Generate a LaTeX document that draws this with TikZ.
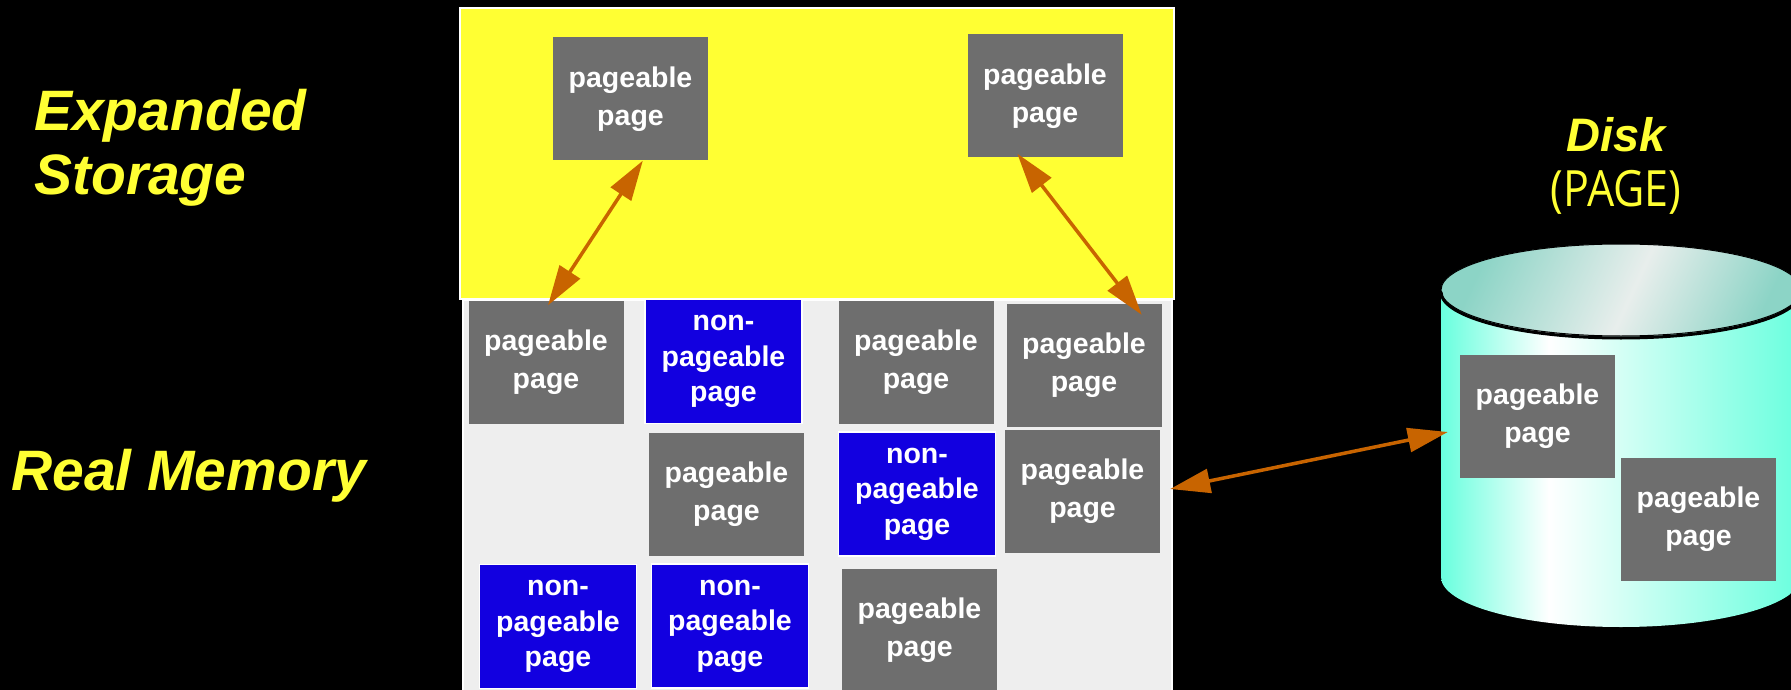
\documentclass[tikz,border=0pt]{standalone}
\usepackage{fontspec}
\setmainfont{Liberation Sans}
\newfontfamily\diskfont{Open Sans}
\usetikzlibrary{arrows.meta,calc}
\definecolor{esyellow}{RGB}{255,255,51}
\definecolor{lblyellow}{RGB}{255,255,51}
\definecolor{memgray}{RGB}{238,238,238}
\definecolor{pagegray}{RGB}{110,110,110}
\definecolor{npblue}{RGB}{18,0,224}
\definecolor{arroworange}{RGB}{200,100,0}
\definecolor{diskcyan}{RGB}{105,255,222}
\definecolor{disklight}{RGB}{225,255,248}
\definecolor{topteal}{RGB}{140,212,198}
\definecolor{toplight}{RGB}{232,238,236}
\pgfdeclarehorizontalshading{diskbody}{100bp}{color(0bp)=(diskcyan); color(25bp)=(diskcyan); color(40bp)=(white); color(47bp)=(disklight); color(75bp)=(diskcyan); color(100bp)=(diskcyan)}
\pgfdeclarehorizontalshading{disktop}{100bp}{color(0bp)=(topteal); color(25bp)=(topteal); color(52bp)=(toplight); color(75bp)=(topteal); color(100bp)=(topteal)}
\tikzset{
  pagebox/.style={fill=pagegray, minimum width=155pt, minimum height=123pt, inner sep=0pt,
    text=white, align=center, font=\bfseries\fontsize{28.5}{38}\selectfont},
  npbox/.style={pagebox, fill=npblue, draw=white, line width=1.5pt, minimum width=157pt, minimum height=124pt,
    font=\bfseries\fontsize{28.5}{35.5}\selectfont},
  lbl/.style={text=lblyellow, inner sep=0pt, align=left, font=\bfseries\itshape\fontsize{57}{64}\selectfont},
  xfer/.style={draw=arroworange, line width=3.5pt,
    {Triangle[length=40pt,width=24pt]}-{Triangle[length=40pt,width=24pt]}}
}
\begin{document}
\begin{tikzpicture}[x=1pt,y=-1pt]
\useasboundingbox (0,0) rectangle (1791,690);
\clip (0,0) rectangle (1791,690);
\fill[black] (0,0) rectangle (1791,690);
% regions
\fill[esyellow, draw=white, line width=2pt] (460,8) rectangle (1174,299);
\fill[memgray, draw=white, line width=1.5pt] (463,300) rectangle (1172,694);
% labels
\node[lbl, anchor=west] (eslbl) at (34,147.5) {Expanded\\Storage};
\node[lbl, anchor=base west] (rmlbl) at (11,490) {Real Memory};
\node[anchor=base, text=lblyellow, font=\bfseries\itshape\fontsize{47}{50}\selectfont] (disklbl) at (1616,151) {Disk};
\node[anchor=base, text=lblyellow, font=\diskfont\fontsize{50}{55}\selectfont] (pagelbl) at (1616,206) {\scalebox{0.86}[1]{(PAGE)}};
% disk
\shade[shading=diskbody] (1441,290) -- (1441,577)
  arc[start angle=180, end angle=360, x radius=180pt, y radius=50pt]
  -- (1801,290)
  arc[start angle=0, end angle=180, x radius=180pt, y radius=46pt] -- cycle;
\shade[shading=disktop, shading angle=-25] (1621,290) ellipse [x radius=180pt, y radius=46pt];
\draw[black, line width=1pt] (1621,290) ellipse [x radius=180pt, y radius=46pt];
\draw[black, line width=3pt] (1441,292) arc[start angle=180, end angle=360, x radius=180pt, y radius=46pt];
% expanded storage pages
\node[pagebox] (es1) at (630.5,99) {pageable\\page};
\node[pagebox] (es2) at (1045,96) {pageable\\page};
% real memory pages
\node[pagebox] (r1a) at (546,362) {pageable\\page};
\node[npbox]   (r1b) at (723.5,361.5) {non-\\pageable\\page};
\node[pagebox] (r1c) at (916,362) {pageable\\page};
\node[pagebox] (r1d) at (1084,365.5) {pageable\\page};
\node[pagebox] (r2b) at (726.5,494) {pageable\\page};
\node[npbox]   (r2c) at (917,494) {non-\\pageable\\page};
\node[pagebox] (r2d) at (1082.5,491) {pageable\\page};
\node[npbox]   (r3a) at (558,626.5) {non-\\pageable\\page};
\node[npbox]   (r3b) at (730,626) {non-\\pageable\\page};
\node[pagebox] (r3c) at (919.5,630) {pageable\\page};
% disk pages
\node[pagebox] (d1) at (1537.5,416) {pageable\\page};
\node[pagebox] (d2) at (1698.5,519.5) {pageable\\page};
% transfers
\draw[xfer] ($(es1.south west)+(90,0)$) -- ($(r1a.north)+(2,5)$);
\draw[xfer] ($(es2.south west)+(50,-4)$) -- ($(r1d.north east)+(-20,11)$);
\draw[xfer] ($(r2d.east)+(10,-2)$) -- ($(d1.west)+(-12,16)$);
\end{tikzpicture}
\end{document}
